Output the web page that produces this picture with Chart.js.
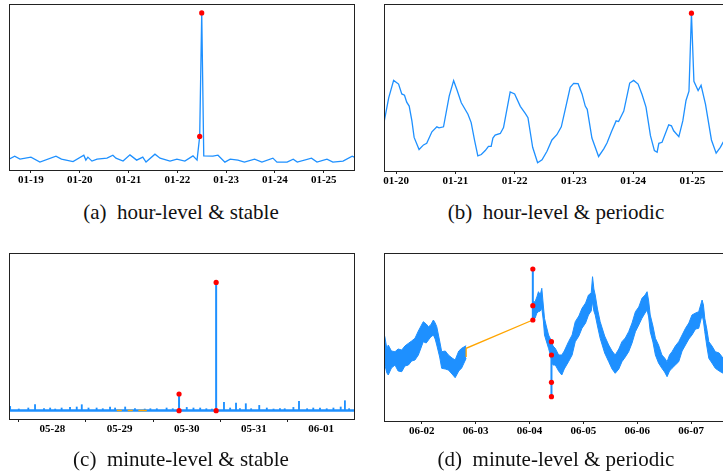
<!DOCTYPE html>
<html>
<head>
<meta charset="utf-8">
<script src="https://cdn.jsdelivr.net/npm/chart.js@4.4.1/dist/chart.umd.min.js"></script>
<style>
html, body { margin:0; padding:0; background:#fff; overflow:hidden; width:723px; height:475px; }
.panel { position:absolute; }
.cap { position:absolute; width:362px; text-align:center; font-family:"Liberation Serif", serif; font-size:21px; line-height:24px; color:#111; white-space:pre; }
</style>
</head>
<body>
<div class="panel" style="left:0;top:0"><canvas id="chA" width="362" height="200"></canvas></div>
<div class="panel" style="left:362px;top:0"><canvas id="chB" width="370" height="200"></canvas></div>
<div class="panel" style="left:0;top:240px"><canvas id="chC" width="362" height="210"></canvas></div>
<div class="panel" style="left:362px;top:240px"><canvas id="chD" width="370" height="210"></canvas></div>
<div class="cap" style="left:0;top:200px">(a)  hour-level &amp; stable</div>
<div class="cap" style="left:375px;top:200px">(b)  hour-level &amp; periodic</div>
<div class="cap" style="left:0;top:447px">(c)  minute-level &amp; stable</div>
<div class="cap" style="left:375px;top:447px">(d)  minute-level &amp; periodic</div>
<script>
// x values are hours from the first labelled day of each panel
var aTickLabels = ["01-19", "01-20", "01-21", "01-22", "01-23", "01-24", "01-25"];
var aTickHours = [0, 24, 48, 72, 96, 120, 144];
var aHours = [-10.8, -8, -5.4, 0, 4.4, 12.3, 15, 20.7, 26, 27, 28, 30, 32.5, 37.4, 40.3, 41.8, 45.3, 48.7, 52, 55,
  56.6, 61, 63.5, 68.4, 71.8, 75.7, 79.7, 81.7, 83, 84, 85, 89.5, 92, 95.4, 98, 101.8, 105, 110, 113.6, 119,
  121, 126, 129, 131, 138, 140.7, 145.6, 148.5, 153.5, 158, 159];
var aValues = [11, 14, 11, 13, 8, 14, 11, 8.5, 15, 10, 13, 9, 11, 12, 15, 12, 9, 15.3, 10, 13,
  8, 16, 12, 9, 11, 9, 14.3, 10, 34, 159, 14.3, 14, 15, 8, 11, 10, 8, 11, 8, 12,
  8, 8, 11, 8, 12, 8, 11, 8, 9, 14, 13];
var aAnomHours = [83, 84];
var aAnomValues = [34, 159];

var bTickLabels = ["01-20", "01-21", "01-22", "01-23", "01-24", "01-25"];
var bTickHours = [0, 24, 48, 72, 96, 120];
var bHours = [-4.9, -3, -1, 1, 2.3, 3.4, 4.3, 5.3, 6.4, 7.3, 9.3, 11.1, 12.4, 14.5, 16.5, 17.4, 19.2, 21.5, 23.3, 24.6,
  26.4, 29.1, 30.4, 31.8, 33.1, 34.5, 36.1, 37.4, 38.5, 39.2, 40.1, 42.2, 43.5, 46.2, 48, 50.3, 52.3, 53.4, 55.3, 57.3,
  59.1, 61.1, 63.1, 65.1, 66.9, 68.5, 70.5, 71.9, 73.7, 75.3, 76.6, 77.4, 79.3, 82, 84.1, 85.4, 87.2, 89.1, 90.1, 92.2,
  94.6, 96.2, 98, 99.6, 101.2, 103, 104.6, 105.7, 106.4, 107.7, 110.4, 111.5, 112.4, 114.5, 116.1, 117.4, 118.6, 119.6, 120.6, 122.3,
  123.5, 125.3, 127.7, 129.6, 131.3, 132.4, 134];
var bValues = [49, 74, 91.7, 88, 78, 76.7, 69.7, 65.7, 50.7, 34, 21.7, 26.4, 28, 39.7, 44.7, 43.7, 44.7, 75.7, 91.4, 82.4,
  69, 57.4, 49, 30.7, 15.4, 16.7, 20.7, 25, 25, 33.4, 36.4, 38, 44, 80, 78, 65.4, 58.4, 54, 24, 8.4,
  11.4, 20, 31.4, 36.7, 44.7, 62.4, 84.7, 88.7, 88.4, 78, 65.7, 62.4, 33.4, 14.7, 22.4, 28.4, 39.7, 50.7, 50, 60.7,
  89, 91.7, 88, 77.4, 64.7, 35.7, 20.7, 19, 28, 29, 46.7, 45.7, 40.7, 34.7, 50.7, 71.4, 80.7, 159.7, 90.7, 81.4,
  86.7, 67.4, 31.4, 18, 24, 29, 34.7];
var bAnomHours = [119.6];
var bAnomValues = [159.7];

var cTickLabels = ["05-28", "05-29", "05-30", "05-31", "06-01"];
var cTickHours = [0, 24, 48, 72, 96];
var cBaseHours = [-15.5, 107.8];
var cBaseValues = [8.6, 8.6];
var cSpikeHours = [-15.1, -12, -8.6, -6.2, -3, -0.8, 1, 3.3, 6.3, 8.7, 10.5, 12.9, 15.8, 18, 20.6, 22.4, 26, 29.5, 33, 35,
  37.3, 40.8, 43, 48, 50.4, 52.8, 55, 57, 61.3, 63.5, 65.6, 67, 69.1, 71, 73.9, 76.6, 79, 81.3, 83, 86.1,
  88.1, 91, 93.2, 95.6, 98, 100.4, 103, 104.5, 106];
var cSpikeValues = [12.6, 10, 11, 14.3, 10.3, 11, 10, 11, 11.6, 12, 14.3, 11, 11, 10.3, 12, 11, 12, 10.3, 10, 10.3,
  10.3, 11, 10.3, 11.6, 11, 11, 10.3, 10, 16.6, 11, 16, 10.3, 15.3, 10.3, 13.6, 11, 10, 10.3, 10.3, 11.6,
  17.6, 10.3, 11, 11, 10.3, 11, 12, 18.3, 10.3];
var cAnomHours = [45.25, 45.25, 58.5, 58.5];
var cAnomValues = [8.3, 25, 8.3, 136.6];
var cFillHours = [23, 24.8, 25.8, 26.9, 28.7, 29.7, 30.7, 33.7];
var cFillValues = [8.6, 8.6, null, 8.6, 8.6, null, 8.6, 8.6];

var dTickLabels = ["06-02", "06-03", "06-04", "06-05", "06-06", "06-07"];
var dTickHours = [0, 24, 48, 72, 96, 120];
var dHours = [-16.8, -16.4, -15.5, -14.9, -13.5, -11.9, -10.5, -8.9, -7.5, -5.9, -4.5, -3, -1.5, 0.7, 2, 3, 4, 5.2, 6, 6.7,
  8, 8.9, 10.5, 11.9, 13.5, 14.9, 16.5, 17.8, 19.8, 35,
  49.5, 50.5, 51.3, 52, 52.8, 53.5, 54.2, 54.7, 55.5, 56.5, 57.8, 58.5, 59.5, 61, 62.4, 63.5, 65.4, 67, 68.4, 70,
  71.4, 73, 74.3, 75.5, 76.1, 76.7, 77.3, 78.3, 79.5, 81.5, 83.3, 84.8, 86.2, 87.8, 89.2, 90.7, 92.2, 93.7, 95.2, 96.7,
  98.1, 99.5, 100.4, 101.1, 101.8, 103, 104.1, 105.5, 107, 108.2, 109.3, 110.4, 111.5, 113, 114.5, 116, 117.5, 119, 120.4, 122,
  123.4, 124.9, 125.5, 126.1, 127, 127.9, 129.3, 130.8, 132.5, 134.3, 136];
var dHigh = [84.3, 84, 72, 76, 70, 69.3, 72, 71, 75, 77.7, 80, 82.7, 90, 99.3, 97, 94.3, 96, 101, 98, 94.3,
  80, 69.3, 70, 66, 63, 61, 70, 72.7, 75.3, null,
  119, 119.3, 124, 129.3, 126, 132.7, 115, 102.7, 95, 86, 80, 75, 72.7, 66, 66, 70, 79.3, 86, 99.3, 105,
  112.7, 118, 126, 128, 144.3, 132, 126, 112, 99.3, 85, 76, 70, 66, 72, 79.3, 83, 89.3, 98, 109.3, 114,
  122.7, 126, 129.3, 120, 106, 95, 82.7, 76, 66, 63, 59.3, 66, 69.3, 75, 79.3, 86, 92.7, 98, 106, 108,
  109.3, 121, 116, 102.7, 92, 79.3, 75, 69.3, 68, 62.7, 60];
var dLow = [66, 56, 48, 46, 53, 56, 50, 49.3, 55, 56, 60, 61, 66, 79.3, 78, 81, 84, 86, 82, 76,
  64, 52.7, 52, 51, 47, 43.3, 50, 53, 62.7, null,
  101, 102.7, 108, 109.3, 110, 112.7, 100, 86, 80, 72.7, 62, 56, 56, 50, 46, 52, 59.3, 66, 79.3, 85,
  92.7, 98, 106, 110, 119.3, 110, 106, 95, 82.7, 68, 59.3, 52, 47.7, 52, 59.3, 64, 69.3, 78, 89.3, 96,
  102.7, 108, 111, 104, 89.3, 79, 66, 58, 52.7, 49, 44.3, 50, 52.7, 56, 59.3, 70, 76, 82, 86, 92,
  92.7, 106, 100, 89.3, 75, 62.7, 58, 52.7, 50, 47.7, 45];
var dAnomHours = [49.5, 49.5, 49.5, 57.8, 57.8, 57.8, 57.8];
var dAnomValues = [101, 152, 115.3, 79.3, 66, 38.7, 24.3];
var dFillHours = [19.8, 19.8, 49.5];
var dFillValues = [64, 72.7, 101];

var BLUE = "#1E90FF";
var RED = "#FF0000";
var ORANGE = "#FFA500";

function pts(xs, ys){
    return xs.map(function(x, i){ return {x: x, y: ys[i]}; });
}

var frame = {
    id: "frame",
    afterDraw: function(chart){
        var a = chart.chartArea, ctx = chart.ctx;
        ctx.save();
        ctx.strokeStyle = "#222";
        ctx.lineWidth = 1;
        ctx.strokeRect(Math.round(a.left) + 0.5, Math.round(a.top) + 0.5, Math.round(a.right - a.left), Math.round(a.bottom - a.top));
        ctx.restore();
    }
};

function xAxis(min, max, tickHours, tickLabels, h){
    return {
        type: "linear", min: min, max: max, offset: false,
        afterBuildTicks: function(s){ s.ticks = tickHours.map(function(v){ return {value: v}; }); },
        afterFit: function(s){ s.height = h; },
        grid: { drawOnChartArea: false, drawTicks: true, tickLength: 3, color: "#222" },
        border: { display: false },
        ticks: {
            autoSkip: false, maxRotation: 0, padding: 1, color: "#000",
            font: { family: "Liberation Serif", weight: "bold", size: 11 },
            callback: function(v, i){ return tickLabels[i]; }
        }
    };
}

function options(x, ymax, pad){
    return {
        responsive: false, animation: false,
        layout: { padding: pad },
        plugins: { legend: { display: false }, tooltip: { enabled: false } },
        scales: { x: x, y: { display: false, min: 0, max: ymax } }
    };
}

function dots(xs, ys){
    return { data: pts(xs, ys), showLine: false, pointRadius: 2.6, pointBackgroundColor: RED, pointBorderWidth: 0, borderColor: RED };
}

// vertical anomaly strokes: only segments that share an x are drawn
function spikes(xs, ys){
    return {
        data: pts(xs, ys), borderColor: BLUE, borderWidth: 2, pointRadius: 2.6,
        pointBackgroundColor: RED, pointBorderWidth: 0,
        segment: { borderColor: function(c){ return c.p0.parsed.x === c.p1.parsed.x ? BLUE : "transparent"; } }
    };
}

new Chart(document.getElementById("chA"), {
    type: "line",
    data: { datasets: [
        dots(aAnomHours, aAnomValues),
        { data: pts(aHours, aValues), borderColor: BLUE, borderWidth: 1.3, pointRadius: 0, tension: 0 }
    ]},
    options: options(xAxis(-10.8, 158.9, aTickHours, aTickLabels, 30), 168, { left: 9, top: 2, right: 8, bottom: 0 }),
    plugins: [frame]
});

new Chart(document.getElementById("chB"), {
    type: "line",
    data: { datasets: [
        dots(bAnomHours, bAnomValues),
        { data: pts(bHours, bValues), borderColor: BLUE, borderWidth: 1.3, pointRadius: 0, tension: 0 }
    ]},
    options: options(xAxis(-4.9, 134, bTickHours, bTickLabels, 29), 169, { left: 22, top: 2, right: 5, bottom: 0 }),
    plugins: [frame]
});

new Chart(document.getElementById("chC"), {
    type: "line",
    data: { datasets: [
        spikes(cAnomHours, cAnomValues),
        { data: pts(cFillHours, cFillValues), borderColor: ORANGE, borderWidth: 1.5, pointRadius: 0 },
        { type: "bar", data: cSpikeHours.map(function(h, i){ return {x: h, y: [cBaseValues[0], cSpikeValues[i]]}; }),
          backgroundColor: BLUE, barThickness: 1.2, grouped: false },
        { data: pts(cBaseHours, cBaseValues), borderColor: BLUE, borderWidth: 2.5, pointRadius: 0 }
    ]},
    options: options(xAxis(-15.5, 107.75, cTickHours, cTickLabels, 31), 166, { left: 9, top: 13, right: 8, bottom: 0 }),
    plugins: [frame]
});

new Chart(document.getElementById("chD"), {
    type: "line",
    data: { datasets: [
        spikes(dAnomHours, dAnomValues),
        { data: pts(dFillHours, dFillValues), borderColor: ORANGE, borderWidth: 1.3, pointRadius: 0 },
        { data: pts(dHours, dHigh), borderColor: BLUE, borderWidth: 1, pointRadius: 0, fill: "+1", backgroundColor: BLUE },
        { data: pts(dHours, dLow), borderColor: BLUE, borderWidth: 1, pointRadius: 0 }
    ]},
    options: options(xAxis(-16.8, 136, dTickHours, dTickLabels, 29), 168, { left: 22, top: 13, right: 5, bottom: 0 }),
    plugins: [frame]
});
</script>
</body>
</html>
